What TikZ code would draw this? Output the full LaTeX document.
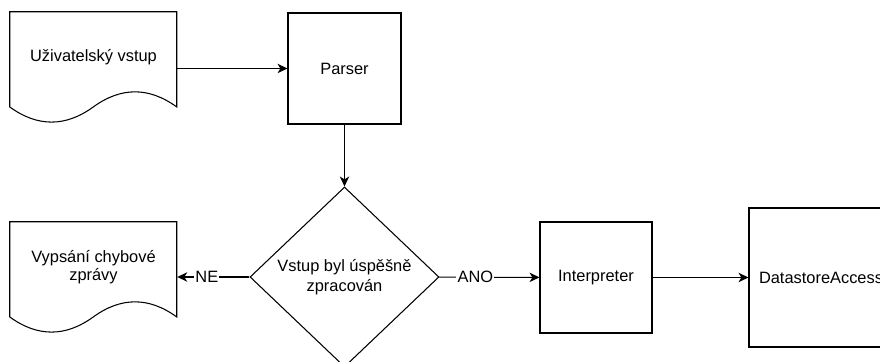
\documentclass[tikz,border=0pt]{standalone}
\usepackage{fontspec}
\setmainfont{Liberation Sans}
\usetikzlibrary{arrows.meta,positioning,shapes.geometric}
\tikzset{
    %Define standard arrow tip
    >={Stealth[length=8.5pt,width=8pt,inset=2.5pt]},
    %Define style for boxes
    process/.style={
           rectangle,
           draw=black, line width=0.9pt,
           font=\fontsize{14}{16.5}\selectfont,
           text centered},
    decision/.style={
           diamond,
           aspect=1,
           draw=black, line width=0.9pt,
           minimum width=5.67cm,
           minimum height=5.4cm,
           inner sep=0pt,
           font=\fontsize{14}{16.5}\selectfont,
           align=center},
    docbox/.style={
           rectangle,
           minimum width=5.01cm,
           minimum height=2.7cm,
           font=\fontsize{14}{15.5}\selectfont,
           align=center},
    % Define arrow style
    flow/.style={
           ->,
           line width=0.9pt},
    answer/.style={
           fill=white,
           inner sep=1pt,
           font=\fontsize{14}{16}\selectfont}
}
% wavy outline of a document node
\newcommand{\docoutline}[1]{%
  \draw[line width=0.9pt] (#1.north west) -- ++(5.01,0) -- ++(0,-2.856)
    .. controls +(-0.835,0.605) and +(0.835,0.605) .. ++(-2.505,0)
    .. controls +(-0.835,-0.605) and +(0.835,-0.605) .. ++(-2.505,0) -- cycle;}
\begin{document}
\begin{tikzpicture}
\clip (0,0) rectangle (26.4,-10.86);
\node[docbox] (input) at (2.805,-1.71) {Uživatelský vstup};
\node[process, minimum width=3.39cm, minimum height=3.33cm] (parser) at (10.335,-2.055) {Parser};
\node[decision] (check) at (10.335,-8.31) {Vstup byl úspěšně\\zpracován};
\node[docbox] (error) at (2.805,-8.01) {Vypsání chybové\\zprávy};
\node[process, minimum width=3.36cm, minimum height=3.33cm] (interp) at (17.88,-8.325) {Interpreter};
\node[process, minimum width=4.32cm, minimum height=4.17cm] (store) at (24.63,-8.325) {DatastoreAccess};

\docoutline{input}
\docoutline{error}

\path[flow]
	(input.east |- parser) edge (parser)
	(parser) edge (check)
	(check) edge node[answer, pos=0.59] {NE} (error.east |- check)
	(check) edge node[answer, pos=0.36] {ANO} (interp)
	(interp) edge (store);
\end{tikzpicture}
\end{document}
